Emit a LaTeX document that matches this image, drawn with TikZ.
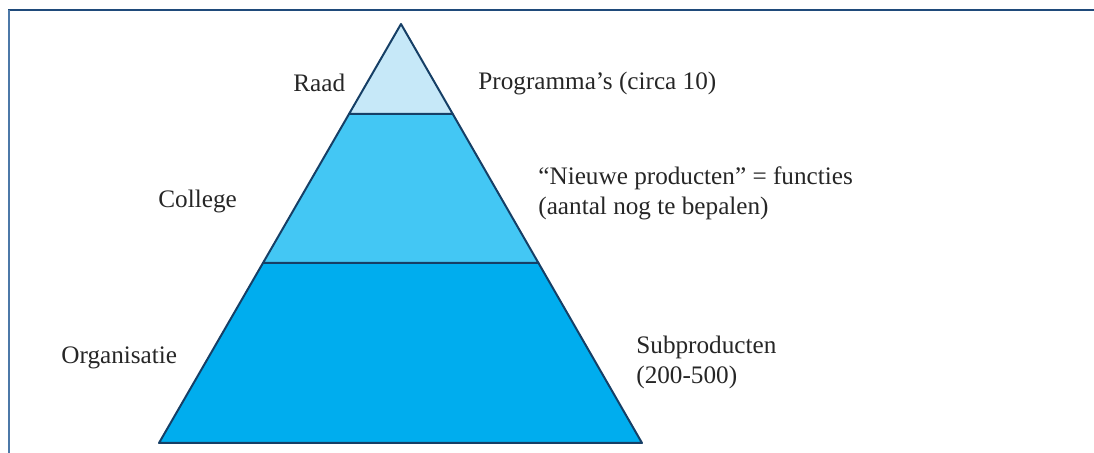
\documentclass[tikz,border=0pt]{standalone}
\usepackage{fontspec}
\setmainfont{Liberation Serif}
\usetikzlibrary{
  positioning,
  calc,
}
\definecolor{outline}{HTML}{163F66}
\definecolor{frametop}{HTML}{1F4A7A}
\definecolor{frameleft}{HTML}{4C78A8}
\definecolor{raadblue}{HTML}{C6E8F8}
\definecolor{collegeblue}{HTML}{43C7F4}
\definecolor{orgblue}{HTML}{00ADEE}
\tikzstyle{layer} = [
draw=outline,
line width=1pt,
line join=round
]
\tikzstyle{leveltext} = [
inner sep=0pt,
anchor=west,
align=left,
text=black!85
]

\begin{document}
\begin{tikzpicture}[x=0.5pt, y=-0.5pt, font=\fontsize{12.6}{15}\selectfont]
  \useasboundingbox (0,0) rectangle (1094,453);
  % Frame
  \draw [frametop, line width=1pt] (8,10) -- (1094,10);
  \draw [frameleft, line width=0.7pt] (9,10) -- (9,453);

  % Pyramid corners
  \coordinate (apex) at (401,24);
  \coordinate (bl) at (159,443);
  \coordinate (br) at (642,443);
  \coordinate (rl) at ($(apex)!0.2148!(bl)$);
  \coordinate (rr) at ($(apex)!0.2148!(br)$);
  \coordinate (cl) at ($(apex)!0.5704!(bl)$);
  \coordinate (cr) at ($(apex)!0.5704!(br)$);

  % Layers
  \path [layer, fill=orgblue] (cl) -- (cr) -- (br) -- (bl) -- cycle;
  \path [layer, fill=collegeblue] (rl) -- (rr) -- (cr) -- (cl) -- cycle;
  \path [layer, fill=raadblue] (apex) -- (rr) -- (rl) -- cycle;

  % Texts
  \node [leveltext] (raad) at (293,83) {Raad};
  \node [leveltext] (programmas) at (478,83) {Programma’s (circa 10)};
  \node [leveltext] (college) at (158,201) {College};
  \node [leveltext] (functies) at (538,193) {“Nieuwe producten” = functies\\(aantal nog te bepalen)};
  \node [leveltext] (organisatie) at (61,358) {Organisatie};
  \node [leveltext] (subproducten) at (636,362) {Subproducten\\(200-500)};
\end{tikzpicture}
\end{document}
